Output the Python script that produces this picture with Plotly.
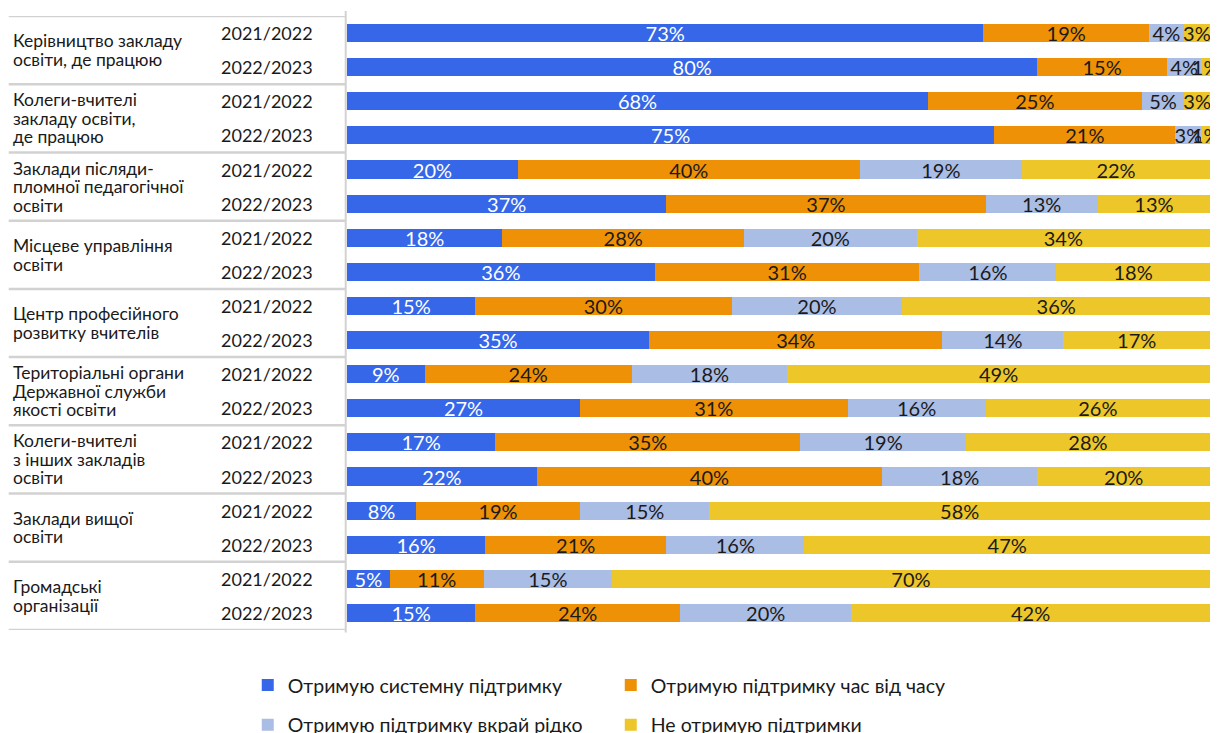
import plotly.graph_objects as go

# Support sources (one group = two survey years)
categories = [
    "Керівництво закладу<br>освіти, де працюю",
    "Колеги-вчителі<br>закладу освіти,<br>де працюю",
    "Заклади післяди-<br>пломної педагогічної<br>освіти",
    "Місцеве управління<br>освіти",
    "Центр професійного<br>розвитку вчителів",
    "Територіальні органи<br>Державної служби<br>якості освіти",
    "Колеги-вчителі<br>з інших закладів<br>освіти",
    "Заклади вищої<br>освіти",
    "Громадські<br>організації",
]
years = ["2021/2022", "2022/2023"]

# Shares of answers, %, one value per row (category x year)
systematic = [73, 80, 68, 75, 20, 37, 18, 36, 15, 35, 9, 27, 17, 22, 8, 16, 5, 15]
time_to_time = [19, 15, 25, 21, 40, 37, 28, 31, 30, 34, 24, 31, 35, 40, 19, 21, 11, 24]
rarely = [4, 4, 5, 3, 19, 13, 20, 16, 20, 14, 18, 16, 19, 18, 15, 16, 15, 20]
no_support = [3, 1, 3, 1, 22, 13, 34, 18, 36, 17, 49, 26, 28, 20, 58, 47, 70, 42]

series = [
    ("Отримую системну підтримку", systematic, "#3567E8", "white", "legend"),
    ("Отримую підтримку час від часу", time_to_time, "#EE9106", "#1a1a1a", "legend"),
    ("Отримую підтримку вкрай рідко", rarely, "#AABDE5", "#1a1a1a", "legend2"),
    ("Не отримую підтримки", no_support, "#EDC62A", "#1a1a1a", "legend2"),
]

FONT = "Lato"
rows = list(range(len(categories) * len(years)))

fig = go.Figure()
for name, vals, color, tcolor, leg in series:
    fig.add_trace(go.Bar(
        name=name,
        y=rows,
        x=vals,
        orientation="h",
        marker=dict(color=color, line=dict(width=0)),
        text=[f"{v}%" for v in vals],
        textposition="inside",
        insidetextanchor="middle",
        textangle=0,
        textfont=dict(family=FONT, size=20, color=tcolor),
        legend=leg,
        hoverinfo="skip",
    ))

annotations = []
shapes = []
line_h = 18.5
for g, cat in enumerate(categories):
    center = 2 * g + 0.5
    lines = cat.split("<br>")
    n = len(lines)
    for k, ln in enumerate(lines):
        annotations.append(dict(
            text=ln, xref="paper", yref="y", x=-0.389, y=center,
            xanchor="left", yanchor="middle", showarrow=False,
            yshift=-(k - (n - 1) / 2) * line_h,
            font=dict(family=FONT, size=17.5, color="#1a1a1a"),
        ))
    for j, yr in enumerate(years):
        annotations.append(dict(
            text=yr, xref="paper", yref="y", x=-0.1485, y=2 * g + j,
            xanchor="left", yanchor="middle", showarrow=False,
            font=dict(family=FONT, size=18, color="#1a1a1a"),
        ))

for b in range(len(categories) + 1):
    shapes.append(dict(
        type="line", xref="paper", yref="y", x0=-0.392, x1=-0.002,
        y0=2 * b - 0.5, y1=2 * b - 0.5,
        line=dict(color="#d2d2d2", width=2.5),
    ))
shapes.append(dict(
    type="line", xref="paper", yref="paper", x0=-0.0015, x1=-0.0015,
    y0=-0.004, y1=1.008, line=dict(color="#d2d2d2", width=2),
))

legend_style = dict(
    orientation="h", x=-0.115, xanchor="left", yanchor="middle",
    entrywidth=318, entrywidthmode="pixels",
    font=dict(family=FONT, size=19.5, color="#1a1a1a"), traceorder="normal",
)

fig.update_layout(
    width=1224, height=733,
    margin=dict(l=347, r=14, t=16, b=103, autoexpand=False),
    paper_bgcolor="white", plot_bgcolor="white",
    barmode="stack", barnorm="percent", bargap=0.47,
    uniformtext=dict(minsize=20, mode="show"),
    xaxis=dict(visible=False, range=[0, 100], fixedrange=True),
    yaxis=dict(visible=False, range=[17.5, -0.5], fixedrange=True),
    annotations=annotations,
    shapes=shapes,
    legend=dict(legend_style, y=-0.09),
    legend2=dict(legend_style, y=-0.155),
    showlegend=True,
)

fig.write_html("out.html")
